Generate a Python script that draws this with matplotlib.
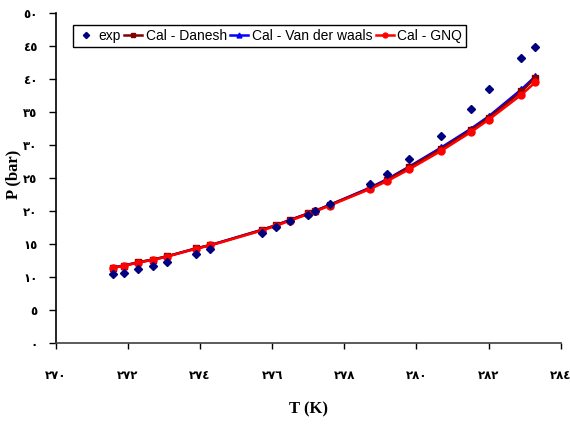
import matplotlib
matplotlib.use("Agg")
import matplotlib.pyplot as plt
from matplotlib.ticker import FixedLocator, FuncFormatter

# temperatures (K)
T_exp = [271.60, 271.90, 272.29, 272.69, 273.09, 273.89, 274.29, 275.71, 276.10,
         276.49, 277.00, 277.20, 277.60, 278.71, 279.19, 279.80, 280.69, 281.50,
         282.00, 282.91, 283.30]
P_exp = [10.4, 10.5, 11.2, 11.7, 12.2, 13.4, 14.2, 16.6, 17.6,
         18.4, 19.35, 20.0, 21.1, 24.0, 25.6, 27.9, 31.3, 35.4,
         38.4, 43.2, 44.8]

T_cal = T_exp
P_danesh = [11.4, 11.7, 12.2, 12.6, 13.1, 14.3, 14.8, 17.1, 17.8,
            18.6, 19.6, 20.0, 20.9, 23.4, 24.7, 26.6, 29.4, 32.2,
            34.1, 38.1, 40.2]
P_vdw = [11.4, 11.7, 12.2, 12.6, 13.1, 14.3, 14.8, 17.1, 17.8,
         18.6, 19.6, 20.0, 20.9, 23.5, 24.8, 26.7, 29.6, 32.4,
         34.3, 38.4, 40.4]
P_gnq = [11.35, 11.65, 12.15, 12.55, 13.05, 14.25, 14.75, 17.0, 17.7,
         18.5, 19.5, 19.9, 20.8, 23.3, 24.5, 26.3, 29.1, 31.9,
         33.8, 37.6, 39.5]

x_ticks = [270, 272, 274, 276, 278, 280, 282, 284]
y_ticks = [0, 5, 10, 15, 20, 25, 30, 35, 40, 45, 50]

AR = str.maketrans("0123456789", "٠١٢٣٤٥٦٧٨٩")


def ar_fmt(v, pos):
    return str(int(round(v))).translate(AR)


fig = plt.figure(figsize=(5.7, 4.25), dpi=100)
ax = fig.add_axes([0.0977, 0.1936, 0.886, 0.776])

ax.plot(T_exp, P_exp, linestyle="none", marker="D", markersize=4.5,
        color="#000080", label="exp", zorder=5)
ax.plot(T_cal, P_danesh, color="#800000", marker="s", markersize=5,
        linewidth=1.8, label="Cal - Danesh", zorder=3)
ax.plot(T_cal, P_vdw, color="#0000FF", marker="^", markersize=5,
        linewidth=1.8, label="Cal - Van der waals", zorder=2)
ax.plot(T_cal, P_gnq, color="#FF0000", marker="o", markersize=5,
        linewidth=1.8, label="Cal - GNQ", zorder=4)

ax.set_xlim(270, 284)
ax.set_ylim(0, 50)
ax.xaxis.set_major_locator(FixedLocator(x_ticks))
ax.yaxis.set_major_locator(FixedLocator(y_ticks))
ax.xaxis.set_major_formatter(FuncFormatter(ar_fmt))
ax.yaxis.set_major_formatter(FuncFormatter(ar_fmt))

for s in ["top", "right"]:
    ax.spines[s].set_visible(False)
ax.spines["left"].set_color("black")
ax.spines["left"].set_linewidth(1.2)
ax.spines["bottom"].set_color("#404040")
ax.spines["bottom"].set_linewidth(1.2)

ax.tick_params(axis="y", direction="out", length=5, width=1, pad=8)
ax.tick_params(axis="x", direction="out", length=4, width=1, pad=15)
for lab in ax.get_xticklabels() + ax.get_yticklabels():
    lab.set_fontfamily("DejaVu Sans")
    lab.set_fontweight("bold")
    lab.set_fontsize(8.5)

ax.set_xlabel("T (K)", family="Liberation Serif", fontweight="bold",
              fontsize=12, labelpad=14)
ax.set_ylabel("P (bar)", family="Liberation Serif", fontweight="bold",
              fontsize=12)
ax.yaxis.set_label_coords(-0.068, 0.51)

leg = ax.legend(loc="upper left", bbox_to_anchor=(0.02, 0.985), ncol=4,
                prop={"family": "Liberation Sans", "size": 10},
                handlelength=1.3, handletextpad=0.25, columnspacing=0.25,
                borderpad=0.3, fancybox=False, framealpha=1,
                edgecolor="black", markerscale=0.7)
leg.get_frame().set_linewidth(1.0)

fig.savefig("out.png", dpi=100)
